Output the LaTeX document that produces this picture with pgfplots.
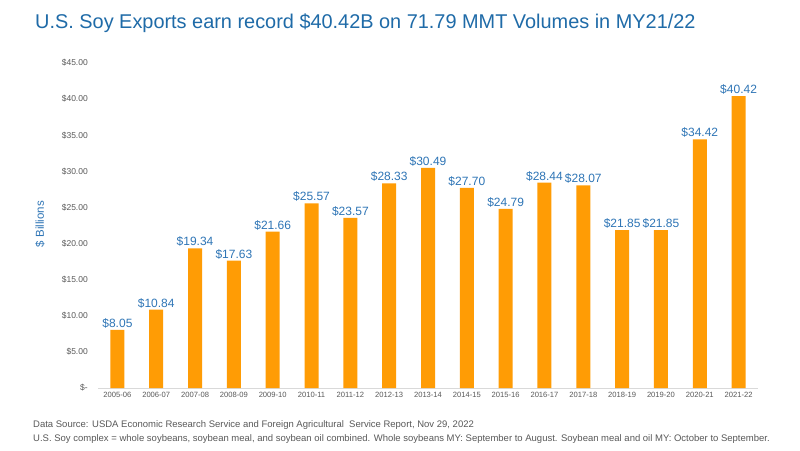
\documentclass[border=0pt]{standalone}
\usepackage{pgfplots}
\pgfplotsset{compat=1.18}
\usepackage{fontspec}
\setmainfont{Liberation Sans}
\definecolor{titleblue}{HTML}{1F6BA8}
\definecolor{labblue}{HTML}{2E75B6}
\definecolor{barorange}{HTML}{FF9C05}
\definecolor{tickgray}{HTML}{595959}
\begin{document}
\begin{tikzpicture}
\useasboundingbox (0pt,0pt) rectangle (800pt,-450pt);
\fill[white] (0pt,0pt) rectangle (800pt,-450pt);
\node[anchor=base west, inner sep=0, text=titleblue, font=\fontsize{19.9}{22}\selectfont] at (35pt,-28pt) {U.S. Soy Exports earn record \$40.42B on 71.79 MMT Volumes in MY21/22};
\begin{axis}[
  at={(98pt,-388pt)}, anchor=south west,
  scale only axis, width=660pt, height=325pt,
  xmin=-0.5, xmax=16.5, ymin=0, ymax=45,
  axis x line*=bottom, axis y line=none,
  x axis line style={draw=black!15, line width=0.6pt},
  ybar, bar width=14pt,
  xtick={0,...,16},
  xticklabels={2005-06,2006-07,2007-08,2008-09,2009-10,2010-11,2011-12,2012-13,2013-14,2014-15,2015-16,2016-17,2017-18,2018-19,2019-20,2020-21,2021-22},
  x tick label style={font=\fontsize{7.6}{9}\selectfont, text=tickgray, yshift=-1pt},
  major tick length=0pt,
  clip=false,
  /pgf/number format/assume math mode=true,
  nodes near coords={\$\pgfmathprintnumber[fixed,fixed zerofill,precision=2,assume math mode=true]{\pgfplotspointmeta}},
  nodes near coords style={font=\fontsize{12}{14}\selectfont, text=labblue, inner sep=1.5pt},
]
\addplot[fill=barorange, draw=none] coordinates {
(0,8.05) (1,10.84) (2,19.34) (3,17.63) (4,21.66) (5,25.57) (6,23.57) (7,28.33) (8,30.49) (9,27.70) (10,24.79) (11,28.44) (12,28.07) (13,21.85) (14,21.85) (15,34.42) (16,40.42)};
\end{axis}
\foreach \v/\t in {0/\$-, 5/\$5.00, 10/\$10.00, 15/\$15.00, 20/\$20.00, 25/\$25.00, 30/\$30.00, 35/\$35.00, 40/\$40.00, 45/\$45.00}{
  \node[anchor=east, inner sep=0, text=tickgray, font=\fontsize{8.5}{10}\selectfont] at (88pt,{(-388+\v*325/45)*1pt}) {\t};
}
\node[rotate=90, text=labblue, font=\fontsize{11.5}{13}\selectfont] at (40pt,-224pt) {\$ Billions};
\node[anchor=base west, inner sep=0, text=tickgray, font=\fontsize{9.5}{11}\selectfont] at (33pt,-427pt) {Data Source: USDA Economic Research Service and Foreign Agricultural\ \ Service Report, Nov 29, 2022};
\node[anchor=base west, inner sep=0, text=tickgray, font=\fontsize{9.5}{11}\selectfont] at (33pt,-441pt) {U.S. Soy complex = whole soybeans, soybean meal, and soybean oil combined. Whole soybeans MY: September to August. Soybean meal and oil MY: October to September.};
\end{tikzpicture}
\end{document}
